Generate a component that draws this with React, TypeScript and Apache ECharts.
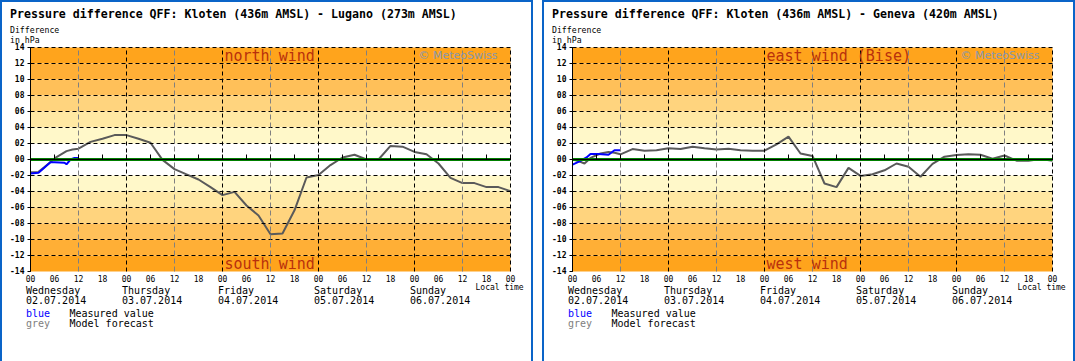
import React, { useEffect, useRef } from "react";
import * as echarts from "echarts";

// ---------- data ----------
const dayNames = ["Wednesday", "Thursday", "Friday", "Saturday", "Sunday"];
const dayDates = ["02.07.2014", "03.07.2014", "04.07.2014", "05.07.2014", "06.07.2014"];

const titleLugano = "Pressure difference QFF: Kloten (436m AMSL) - Lugano (273m AMSL)";
const titleGeneva = "Pressure difference QFF: Kloten (436m AMSL) - Geneva (420m AMSL)";

// [hour since Wed 00:00, hPa]
const luganoModel: [number, number][] = [
  [0, -1.6], [2, -1.55], [3.5, -0.95], [5, -0.3], [6.5, 0.3], [9, 1.05], [10.5, 1.25], [12, 1.35],
  [15, 2.2], [18, 2.6], [21, 3.05], [24, 3.05], [27, 2.6], [30, 2.1], [33, -0.05], [36, -1.2],
  [39, -1.85], [42, -2.5], [45, -3.45], [48, -4.45], [51, -4.05], [54, -5.75], [57, -7.0],
  [60, -9.35], [63, -9.25], [66, -6.35], [69, -2.25], [72, -1.95], [75, -0.7], [78, 0.25],
  [81, 0.6], [84, 0], [87, 0], [90, 1.7], [93, 1.6], [96, 0.95], [99, 0.65], [102, -0.5],
  [105, -2.3], [108, -2.95], [111, -2.95], [114, -3.45], [117, -3.45], [120, -3.95],
];
const luganoMeasured: [number, number][] = [
  [0, -1.75], [2, -1.65], [5, -0.35], [6, -0.35], [8.5, -0.4], [9, -0.6], [10, 0], [11, 0.2], [12, 0.2],
];
const genevaModel: [number, number][] = [
  [0, 0], [1.5, -0.2], [3, -0.5], [4.5, 0.2], [7, 0.75], [9, 0.95], [10.5, 0.85], [12, 0.65],
  [15, 1.3], [18, 1.1], [21, 1.15], [24, 1.4], [27, 1.3], [30, 1.6], [33, 1.4], [36, 1.25],
  [39, 1.35], [42, 1.15], [45, 1.1], [48, 1.1], [51, 1.9], [54, 2.85], [57, 0.75], [60, 0.45],
  [63, -3.0], [66, -3.45], [69, -1.05], [72, -2.05], [75, -1.85], [78, -1.35], [81, -0.5],
  [84, -0.9], [87, -2.15], [90, -0.55], [93, 0.35], [96, 0.55], [99, 0.65], [102, 0.6],
  [105, 0.1], [108, 0.5], [111, -0.15], [114, -0.15], [117, 0.05], [120, -0.15],
];
const genevaMeasured: [number, number][] = [
  [0, -0.65], [1.5, -0.3], [3.5, 0.25], [4.5, 0.7], [6.5, 0.7], [9, 0.6], [10.5, 1.15], [12, 1.15],
];

const panels = [
  { title: titleLugano, topWind: "north wind", bottomWind: "south wind", model: luganoModel, measured: luganoMeasured },
  { title: titleGeneva, topWind: "east wind (Bise)", bottomWind: "west wind", model: genevaModel, measured: genevaMeasured },
];

// band limits (hPa) – colours are styling
const bandLimits: [number, number][] = [
  [12, 14], [10, 12], [8, 10], [6, 8], [4, 6], [2, 4],
  [-4, -2], [-6, -4], [-8, -6], [-10, -8], [-12, -10], [-14, -12],
];
const bandColors = [
  "#FFA41C", "#FFAF36", "#FFC059", "#FFD47E", "#FFE8A3", "#FFF8C9",
  "#FFF8C9", "#FFE8A3", "#FFD47E", "#FFC059", "#FFAF36", "#FFA41C",
];

// ---------- layout ----------
const PANEL_X = [0, 542];
const PLOT_LEFT = 30.5;
const PLOT_TOP = 47.5;
const PLOT_W = 480;
const PLOT_H = 224;
const MONO = '"DejaVu Sans Mono", monospace';

const pad2 = (n: number) => (n < 10 ? "0" + n : "" + n);

export default function App() {
  const ref = useRef<HTMLDivElement>(null);

  useEffect(() => {
    document.body.style.margin = "0";
    const chart = echarts.init(ref.current!, null, { renderer: "svg" });

    const grid = PANEL_X.map((px) => ({
      left: px + PLOT_LEFT,
      top: PLOT_TOP,
      width: PLOT_W,
      height: PLOT_H,
      containLabel: false,
    }));

    const xAxis = panels.map((_, i) => ({
      type: "value",
      gridIndex: i,
      min: 0,
      max: 120,
      interval: 6,
      z: 5,
      axisLine: { show: true, lineStyle: { color: "#000", width: 1 } },
      axisTick: { show: true, inside: true, length: 5, lineStyle: { color: "#000" } },
      splitLine: { show: false },
      axisLabel: {
        show: true,
        margin: 4,
        fontSize: 8,
        fontFamily: MONO,
        color: "#000",
        formatter: (v: number) => pad2(v % 24),
      },
    }));

    const yAxis = panels.map((_, i) => ({
      type: "value",
      gridIndex: i,
      min: -14,
      max: 14,
      interval: 2,
      z: 5,
      axisLine: { show: true, lineStyle: { color: "#000", width: 1 } },
      axisTick: { show: true, inside: false, length: 3, lineStyle: { color: "#000" } },
      splitLine: { show: false },
      axisLabel: {
        show: true,
        margin: 6,
        fontSize: 8,
        fontWeight: "bold",
        fontFamily: MONO,
        color: "#000",
        formatter: (v: number) => (v < 0 ? "-" + pad2(-v) : pad2(v)),
      },
    }));

    const series: any[] = [];
    panels.forEach((p, i) => {
      const lines: any[] = [];
      for (let v = -12; v <= 14; v += 2) {
        if (v === 0) continue;
        lines.push({ yAxis: v, lineStyle: { color: "#000", width: 1, type: [4, 3] } });
      }
      for (let h = 12; h <= 120; h += 24) {
        lines.push({ xAxis: h, lineStyle: { color: "#808080", width: 1, type: [5, 3] } });
      }
      for (let h = 24; h <= 120; h += 24) {
        lines.push({ xAxis: h, lineStyle: { color: "#000", width: 1, type: [4, 3] } });
      }
      lines.push({ yAxis: 0, lineStyle: { color: "#008000", width: 3, type: "solid" } });

      series.push({
        type: "line",
        xAxisIndex: i,
        yAxisIndex: i,
        z: 1,
        silent: true,
        symbol: "none",
        data: [[0, 0], [120, 0]],
        lineStyle: { opacity: 0 },
        markArea: {
          silent: true,
          data: bandLimits.map((b, k) => [
            { yAxis: b[0], itemStyle: { color: bandColors[k], opacity: 1 } },
            { yAxis: b[1] },
          ]),
        },
      });
      series.push({
        type: "line",
        xAxisIndex: i,
        yAxisIndex: i,
        z: 2,
        silent: true,
        symbol: "none",
        data: [[0, 0], [120, 0]],
        lineStyle: { opacity: 0 },
        markLine: {
          silent: true,
          symbol: ["none", "none"],
          label: { show: false },
          emphasis: { disabled: true },
          data: lines,
        },
      });
      series.push({
        name: "Model forecast",
        type: "line",
        xAxisIndex: i,
        yAxisIndex: i,
        z: 3,
        symbol: "none",
        data: p.model,
        lineStyle: { color: "#5A5A5A", width: 2 },
      });
      series.push({
        name: "Measured value",
        type: "line",
        xAxisIndex: i,
        yAxisIndex: i,
        z: 4,
        symbol: "none",
        data: p.measured,
        lineStyle: { color: "#0000FF", width: 2 },
      });
    });

    chart.setOption({
      animation: false,
      backgroundColor: "#fff",
      grid,
      xAxis,
      yAxis,
      series,
    });

    const graphic: any[] = [];
    const txt = (text: string, x: number, y: number, font: string, fill = "#000", align = "left") => ({
      type: "text",
      x,
      y,
      silent: true,
      z: 10,
      style: { text, font, fill, textAlign: align, textVerticalAlign: "middle", align, verticalAlign: "middle" },
    });

    panels.forEach((p, i) => {
      const px = PANEL_X[i];
      const xp = (h: number) => chart.convertToPixel({ xAxisIndex: i } as any, h) as number;
      const yp = (v: number) => chart.convertToPixel({ yAxisIndex: i } as any, v) as number;
      graphic.push({
        type: "rect",
        silent: true,
        z: 10,
        shape: { x: px + 1, y: 1, width: 531, height: 420 },
        style: { fill: "none", stroke: "#0A64C8", lineWidth: 2 },
      });
      graphic.push(txt(p.title, px + 10, 13.5, `bold 11.6px ${MONO}`));
      graphic.push(txt("Difference", px + 10, 29.5, `8.2px ${MONO}`));
      graphic.push(txt("in hPa", px + 10, 39.5, `8.2px ${MONO}`));
      graphic.push(txt(p.topWind, xp(48) + 2, yp(13), `15px ${MONO}`, "#B8300C"));
      graphic.push(txt(p.bottomWind, xp(48) + 2, yp(-13), `15px ${MONO}`, "#B8300C"));
      graphic.push(txt("\u00A9 MeteoSwiss", xp(120) - 13, yp(13), `11px "DejaVu Sans", sans-serif`, "#8797AC", "right"));
      graphic.push(txt("Local time", xp(120) - 35, 287, `8px ${MONO}`));
      dayNames.forEach((d, k) => {
        const x = xp(k * 24) - 4.5;
        graphic.push(txt(d, x, 290.5, `10px ${MONO}`));
        graphic.push(txt(dayDates[k], x, 300.5, `10px ${MONO}`));
      });
      const lx = xp(0) - 4.5;
      graphic.push(txt("blue", lx, 313.5, `10px ${MONO}`, "#0000FF"));
      graphic.push(txt("Measured value", lx + 43.5, 313.5, `10px ${MONO}`));
      graphic.push(txt("grey", lx, 323, `10px ${MONO}`, "#808080"));
      graphic.push(txt("Model forecast", lx + 43.5, 323, `10px ${MONO}`));
    });

    chart.setOption({ graphic });

    return () => chart.dispose();
  }, []);

  return <div ref={ref} style={{ width: 1075, height: 361 }} />;
}
